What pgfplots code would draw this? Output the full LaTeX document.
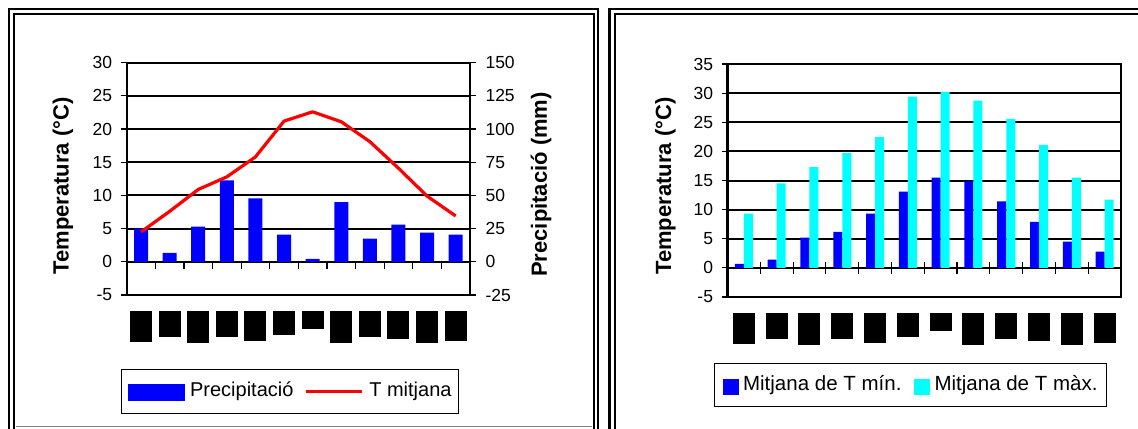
\documentclass[border=0pt]{standalone}
\usepackage{fontspec}
\setmainfont{Liberation Sans}
\usepackage{pgfplots}
\pgfplotsset{compat=1.18}

\definecolor{pblue}{RGB}{0,0,255}
\definecolor{pcyan}{RGB}{0,255,255}
\definecolor{pred}{RGB}{255,0,0}

\newcommand{\tickfont}{\fontsize{17.5bp}{20bp}\selectfont}
\newcommand{\labfont}{\fontsize{22bp}{26bp}\selectfont\bfseries}
\newcommand{\legfont}{\fontsize{20bp}{24bp}\selectfont}
\newcommand{\legfontb}{\fontsize{20.5bp}{24bp}\selectfont}
\newcommand{\mb}[2]{\rule{0pt}{#1bp}\raisebox{2bp}{\tiny #2}}

\pgfplotsset{
  common/.style={
    scale only axis, anchor=south west,
    xmin=0.5, xmax=12.5,
    axis line style={line width=2.2bp, black},
    tick align=outside, major tick length=6bp,
    ytick style={black, line width=1.2bp},
    xtick style={draw=none},
    tick label style={font=\tickfont},
    /pgf/number format/assume math mode=true,
    label style={font=\labfont},
    grid style={black, line width=2bp},
    xtick={1,...,12},
    xticklabels={\mb{31}{gen},\mb{26}{febr},\mb{32}{març},\mb{26}{abr},\mb{30}{maig},\mb{24}{juny},\mb{18}{jul},\mb{32}{ag},\mb{26}{set},\mb{28}{oct},\mb{32}{nov},\mb{30}{des}},
    xticklabel style={fill=black, text=black, inner sep=0pt, minimum width=22bp, text depth=0pt, anchor=north, yshift=-9.5bp},
    legend style={font=\legfont, draw=black, line width=1bp, inner xsep=7bp, inner ysep=12bp,
      nodes={inner sep=0pt, text height=15bp, text depth=4.5bp}, cells={anchor=west},
      legend columns=-1, anchor=north west},
  }
}

\begin{document}
\begin{tikzpicture}[x=1bp,y=1bp]
\path[use as bounding box] (0,0) rectangle (1138,428);
% panel frames
\draw[line width=2.2bp] (9,419) rectangle (597.8,-20);
\draw[line width=2bp] (14,414) rectangle (593.5,-20);
\draw[line width=2.2bp] (609.5,419) rectangle (1160,-20);
\draw[line width=2bp] (614.5,414) rectangle (1160,-20);
\draw[gray, line width=1bp] (16,1.3) -- (592,1.3);

% ---------- left chart: precipitation (right axis, bars) ----------
\begin{axis}[common,
  at={(126.7bp,133bp)}, width=343.3bp, height=232.3bp,
  ymin=-25, ymax=150, ytick={-25,0,25,...,150},
  ytick pos=right, yticklabel pos=right,
  yticklabel style={xshift=6bp},
  xticklabels={}, 
  ymajorgrids,
  ybar, bar width=14bp,
  ylabel={Precipitació (mm)},
  ylabel style={at={(axis description cs:1.2069,0.4757)}, anchor=center},
]
\addplot[fill=pblue, draw=none] coordinates {
(1,25) (2,6.8) (3,26.5) (4,61.4) (5,47.7) (6,20.5) (7,2.3) (8,45) (9,17.4) (10,28) (11,22) (12,20.5)};
\end{axis}

% ---------- left chart: temperature (left axis, line) ----------
\begin{axis}[common,
  at={(126.7bp,133bp)}, width=343.3bp, height=232.3bp,
  ymin=-5, ymax=30, ytick={-5,0,...,30},
  ytick pos=left,
  yticklabel style={xshift=-5bp},
  ylabel={Temperatura (°C)},
  ylabel style={at={(axis description cs:-0.1855,0.469)}, anchor=center},
  legend style={at={(axis description cs:-0.018,-0.3186)},
    /tikz/every odd column/.append style={column sep=5.5bp},
    /tikz/every even column/.append style={column sep=10.5bp}},
]
\addlegendimage{legend image code/.code={\fill[pblue] (0bp,-9bp) rectangle (55.6bp,7bp);}}
\addlegendentry{Precipitació}
\addplot[pred, line width=3.2bp, line join=round, mark=none,
  legend image code/.code={\draw[pred, line width=3.2bp] (0bp,0bp) -- (56.6bp,0bp);}] coordinates {
(1,4.5) (2,7.6) (3,10.9) (4,12.8) (5,15.8) (6,21.2) (7,22.6) (8,21.1) (9,18.1) (10,14.1) (11,9.9) (12,6.9)};
\addlegendentry{T mitjana}
\foreach \t in {1.5,2.5,...,11.5}{
  \edef\temp{\noexpand\draw[black, line width=1.2bp] (axis cs:\t,0) -- ([yshift=-7bp]axis cs:\t,0);}\temp
}
\end{axis}

% ---------- right chart ----------
\begin{axis}[common,
  at={(727.5bp,131bp)}, width=393.5bp, height=233bp,
  ymin=-5, ymax=35, ytick={-5,0,...,35},
  ytick pos=left,
  yticklabel style={xshift=-5bp},
  ymajorgrids,
  ybar=0pt, bar width=9bp,
  ylabel={Temperatura (°C)},
  ylabel style={at={(axis description cs:-0.1576,0.476)}, anchor=center},
  legend style={at={(axis description cs:-0.0343,-0.282)}, inner xsep=8.5bp, font=\legfontb,
    /tikz/every odd column/.append style={column sep=4.6bp},
    /tikz/every even column/.append style={column sep=13bp}},
]
\addplot[fill=pblue, draw=none,
  legend image code/.code={\fill[pblue] (0bp,-10bp) rectangle (15.5bp,6bp);}] coordinates {
(1,0.7) (2,1.4) (3,5.2) (4,6.2) (5,9.3) (6,13.1) (7,15.5) (8,14.85) (9,11.4) (10,7.9) (11,4.5) (12,2.8)};
\addlegendentry{Mitjana de T mín.}
\addplot[fill=pcyan, draw=none,
  legend image code/.code={\fill[pcyan] (0bp,-10bp) rectangle (15.5bp,6bp);}] coordinates {
(1,9.3) (2,14.5) (3,17.3) (4,19.7) (5,22.45) (6,29.4) (7,30.2) (8,28.7) (9,25.6) (10,21.1) (11,15.5) (12,11.7)};
\addlegendentry{Mitjana de T màx.}
\foreach \t in {1.5,2.5,...,11.5}{
  \edef\temp{\noexpand\draw[black, line width=1.2bp] ([yshift=6bp]axis cs:\t,0) -- ([yshift=-6bp]axis cs:\t,0);}\temp
}
\end{axis}
\end{tikzpicture}
\end{document}
